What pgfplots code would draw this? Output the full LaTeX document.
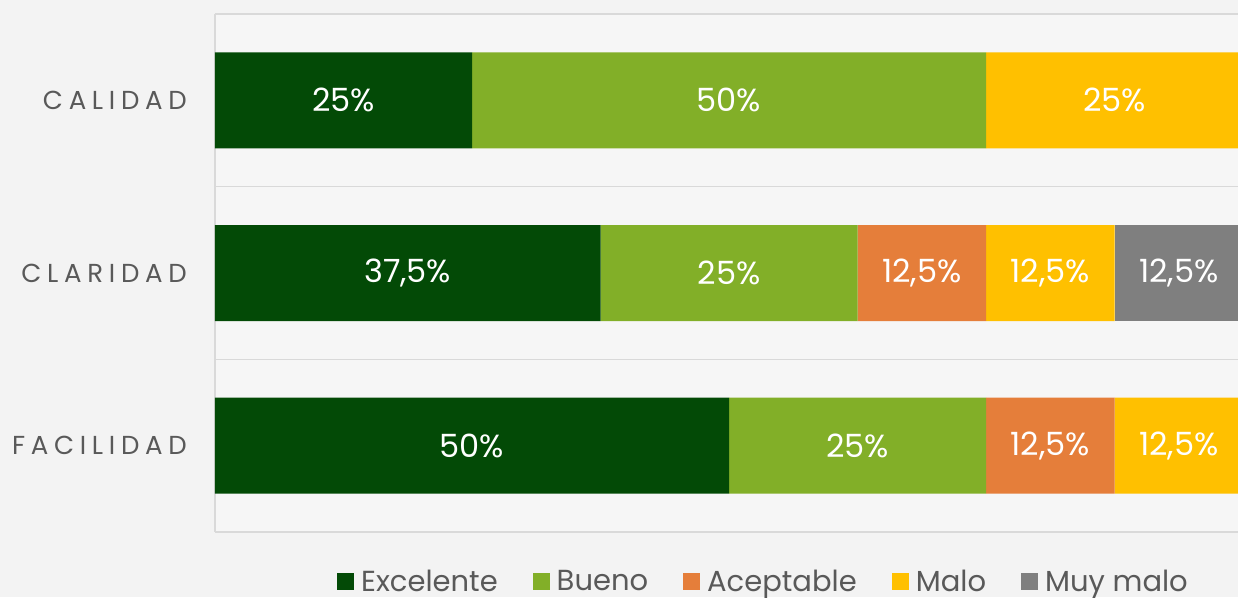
\documentclass[border=0pt]{standalone}
\usepackage{pgfplots}
\pgfplotsset{compat=1.18}
\usepackage{pgfplotstable}
\usepackage{fontspec}
\setmainfont{Poppins}
\newfontfamily\catfont[LetterSpace=22]{Poppins}
\usetikzlibrary{backgrounds}
\definecolor{bg}{HTML}{F3F3F3}
\definecolor{plotbg}{HTML}{F6F6F6}
\definecolor{exc}{HTML}{034A06}
\definecolor{bueno}{HTML}{82AF28}
\definecolor{acept}{HTML}{E57E3A}
\definecolor{malo}{HTML}{FFC000}
\definecolor{muymalo}{HTML}{7F7F7F}
\definecolor{txt}{HTML}{595959}
\definecolor{gridc}{HTML}{D9D9D9}

\pgfplotstableread{
y exc bueno acept malo muymalo
0 25 50 0 25 0
1 37.5 25 12.5 12.5 12.5
2 50 25 12.5 12.5 0
}\data

\begin{document}
\begin{tikzpicture}
\begin{axis}[
  scale only axis, width=1028pt, height=518pt,
  xbar stacked, bar width=96pt,
  xmin=0, xmax=100, ymin=-0.5, ymax=2.5, y dir=reverse,
  enlargelimits=false,
  axis line style={draw=none},
  xtick=\empty,
  ytick={0,1,2}, yticklabels={CALIDAD,CLARIDAD,FACILIDAD},
  major tick length=0pt, minor tick length=0pt,
  minor ytick={-0.5,0.5,1.5,2.5}, yminorgrids,
  minor grid style={draw=gridc, line width=1.5pt},
  extra x ticks={0}, extra x tick labels={},
  extra x tick style={xmajorgrids, major grid style={draw=gridc, line width=1.5pt}},
  yticklabel style={font={\catfont\fontsize{26}{30}\selectfont}, text=txt, anchor=east, inner sep=0pt, xshift=-28pt},
  axis background/.style={fill=plotbg},
  legend columns=5,
  legend style={at={(0.5326,-0.095)}, anchor=center, draw=none, fill=none,
    font={\fontsize{29}{33}\selectfont}, text=txt,
    nodes={inner sep=0pt},
    /tikz/every odd column/.append style={column sep=7pt},
    /tikz/every even column/.append style={column sep=35pt}},
  legend image code/.code={\fill[#1] (0pt,-8.5pt) rectangle (17pt,8.5pt);},
]
\addplot[fill=exc, draw=none] table[x=exc, y=y] {\data};
\addplot[fill=bueno, draw=none] table[x=bueno, y=y] {\data};
\addplot[fill=acept, draw=none] table[x=acept, y=y] {\data};
\addplot[fill=malo, draw=none] table[x=malo, y=y] {\data};
\addplot[fill=muymalo, draw=none] table[x=muymalo, y=y] {\data};
\legend{Excelente, Bueno, Aceptable, Malo, Muy malo}
\end{axis}
\begin{axis}[
  scale only axis, width=1028pt, height=518pt,
  xmin=0, xmax=100, ymin=-0.5, ymax=2.5, y dir=reverse,
  enlargelimits=false, hide axis,
]
\addplot[draw=none, mark=none, nodes near coords, point meta=explicit symbolic,
  every node near coord/.append style={anchor=center, text=white, font={\fontsize{32}{36}\selectfont}}]
  coordinates {
  (12.5,0) [25\%] (50,0) [50\%] (87.5,0) [25\%]
  (18.75,1) [37,5\%] (50,1) [25\%] (68.75,1) [12,5\%] (81.25,1) [12,5\%] (93.75,1) [12,5\%]
  (25,2) [50\%] (62.5,2) [25\%] (81.25,2) [12,5\%] (93.75,2) [12,5\%]
  };
\end{axis}
\pgfresetboundingbox
\path[use as bounding box] (-215pt,-65pt) rectangle (1023pt,532pt);
\begin{scope}[on background layer]
\fill[bg] (-215pt,-65pt) rectangle (1023pt,532pt);
\end{scope}
\end{tikzpicture}
\end{document}
